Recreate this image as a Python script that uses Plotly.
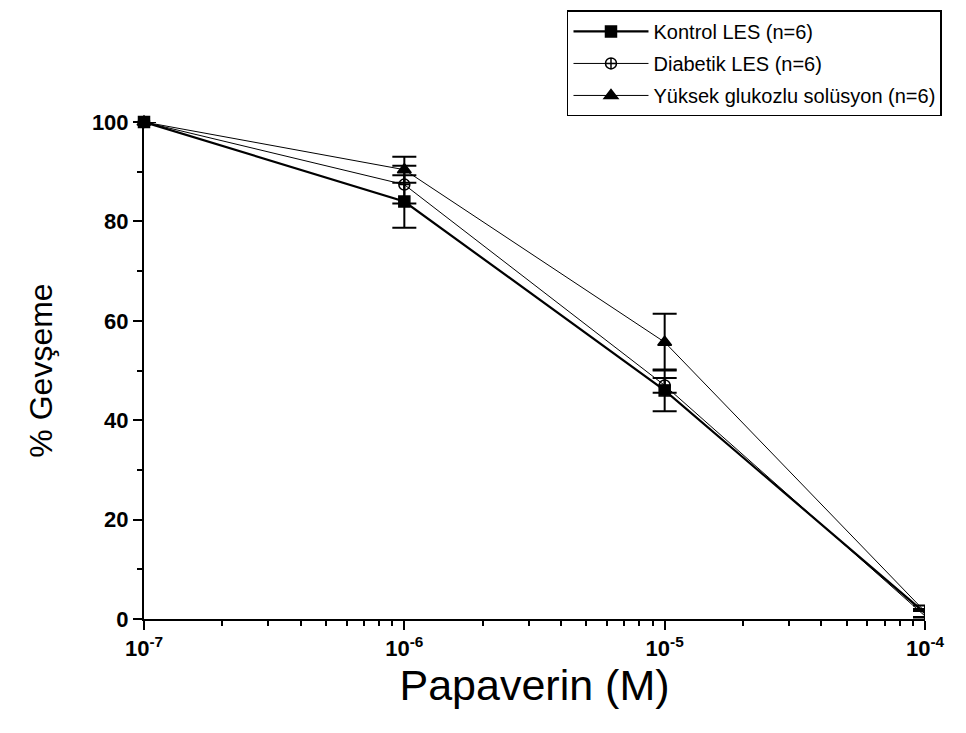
import plotly.graph_objects as go

# ---- data ----
concentrations = [1e-7, 1e-6, 1e-5, 1e-4]
kontrol = [100, 84.0, 46.0, 1.2]
kontrol_err = [0, 5.3, 4.2, 0.8]
diabetik = [100, 87.4, 47.0, 0.6]
diabetik_err = [0, 3.8, 1.5, 1.0]
yuksek = [100, 90.4, 55.7, 1.5]
yuksek_err = [0, 2.6, 5.7, 1.2]

series_names = ["Kontrol LES (n=6)", "Diabetik LES (n=6)", "Yüksek glukozlu solüsyon (n=6)"]
x_tick_vals = [1e-7, 1e-6, 1e-5, 1e-4]
x_tick_text = ["10<sup>-7</sup>", "10<sup>-6</sup>", "10<sup>-5</sup>", "10<sup>-4</sup>"]
y_tick_vals = [0, 20, 40, 60, 80, 100]

FONT = "Liberation Sans, Arial, sans-serif"

fig = go.Figure()

styles = [
    dict(y=kontrol, e=kontrol_err, sym="square", lw=2.2, size=11),
    dict(y=diabetik, e=diabetik_err, sym="circle-cross-open", lw=1, size=11),
    dict(y=yuksek, e=yuksek_err, sym="triangle-up", lw=1, size=12),
]

for i, (name, st) in enumerate(zip(series_names, styles)):
    fig.add_trace(go.Scatter(
        x=concentrations, y=st["y"], name=name, mode="lines+markers",
        line=dict(color="black", width=st["lw"]),
        marker=dict(symbol=st["sym"], size=st["size"], color="black",
                    line=dict(color="black", width=1.5)),
        error_y=dict(type="data", array=st["e"], visible=True,
                     color="black", thickness=2, width=12),
        legendgroup=f"g{i}",
        cliponaxis=False,
    ))

minor_x = [k * 10.0 ** e for e in (-7, -6, -5) for k in range(2, 10)]

fig.update_layout(
    width=966, height=733,
    margin=dict(l=144, r=41, t=121, b=114),
    paper_bgcolor="white", plot_bgcolor="white",
    font=dict(family=FONT, color="black"),
    showlegend=True,
    legend=dict(
        x=0.5416, y=1.222, xanchor="left", yanchor="top",
        bordercolor="black", borderwidth=1.5, bgcolor="white",
        font=dict(size=20, family=FONT, color="black"),
        itemwidth=75, tracegroupgap=3,
    ),
    xaxis=dict(
        type="log", range=[-7, -4],
        tickvals=x_tick_vals, ticktext=x_tick_text,
        ticks="outside", ticklen=9, tickwidth=2, tickcolor="black",
        showline=True, linecolor="black", linewidth=2,
        showgrid=False, zeroline=False,
        tickfont=dict(size=22, family=FONT, weight="bold"),
        minor=dict(tickvals=minor_x, ticks="outside", ticklen=5, tickwidth=2, tickcolor="black"),
        title=dict(text="Papaverin (M)", font=dict(size=43, family=FONT), standoff=8),
    ),
    yaxis=dict(
        range=[0, 100],
        tickvals=y_tick_vals,
        ticks="outside", ticklen=9, tickwidth=2, tickcolor="black",
        showline=True, linecolor="black", linewidth=2,
        showgrid=False, zeroline=False,
        tickfont=dict(size=22, family=FONT, weight="bold"),
        minor=dict(dtick=10, ticks="outside", ticklen=5, tickwidth=2, tickcolor="black"),
        title=dict(text="% Gevşeme", font=dict(size=32, family=FONT), standoff=30),
    ),
)

fig.write_html("out.html")
